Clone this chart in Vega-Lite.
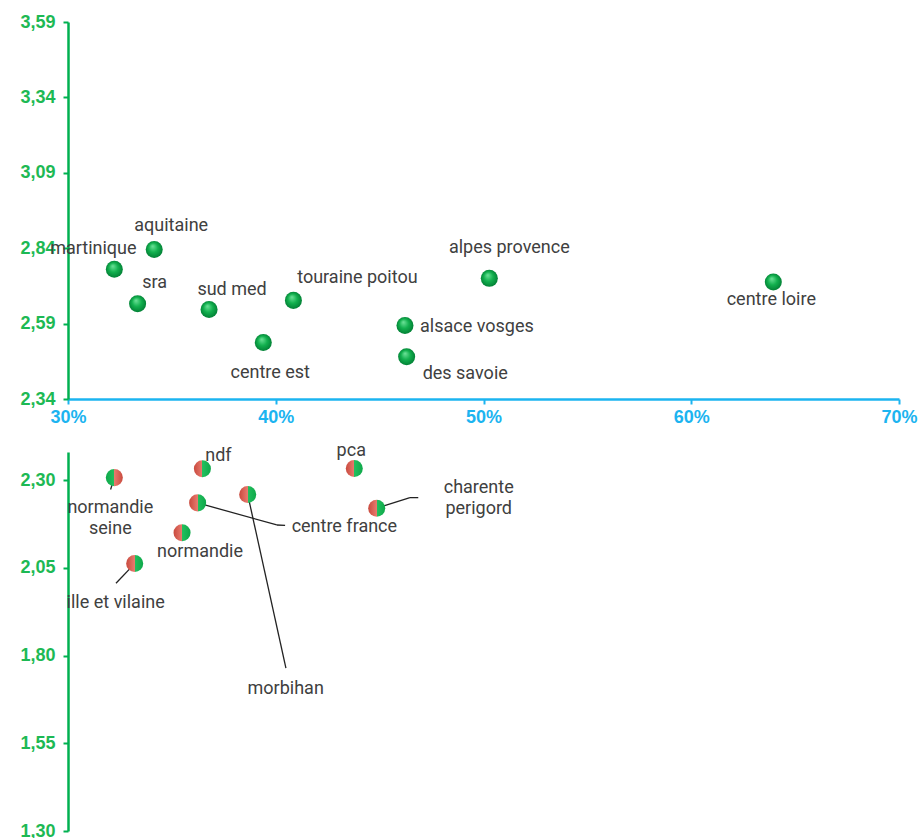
{
  "$schema": "https://vega.github.io/schema/vega-lite/v6.json",
  "padding": {"left": 19, "top": 13, "right": 5, "bottom": 5},
  "spacing": 53,
  "bounds": "flush",
  "config": {
    "view": {"stroke": null},
    "axis": {"labelFlush": false, "labelOverlap": false, "grid": false, "title": null, "labelFont": "Liberation Sans", "labelFontWeight": "bold", "labelFontSize": 18},
    "text": {"font": "Roboto", "fontSize": 18, "color": "#404040", "baseline": "middle", "align": "center", "lineHeight": 21, "lineBreak": "\n"}
  },
  "datasets": {
    "upper": [
      {"name": "martinique", "pct": 32.23, "val": 2.770},
      {"name": "aquitaine", "pct": 34.15, "val": 2.836},
      {"name": "sra", "pct": 33.35, "val": 2.656},
      {"name": "sud med", "pct": 36.79, "val": 2.637},
      {"name": "centre est", "pct": 39.40, "val": 2.527},
      {"name": "touraine poitou", "pct": 40.85, "val": 2.667},
      {"name": "alsace vosges", "pct": 46.22, "val": 2.584},
      {"name": "des savoie", "pct": 46.30, "val": 2.480},
      {"name": "alpes provence", "pct": 50.28, "val": 2.740},
      {"name": "centre loire", "pct": 63.95, "val": 2.728}
    ],
    "lower": [
      {"name": "normandie\nseine", "pct": 32.23, "val": 2.307},
      {"name": "ndf", "pct": 36.47, "val": 2.332},
      {"name": "centre france", "pct": 36.24, "val": 2.235},
      {"name": "morbihan", "pct": 38.65, "val": 2.259},
      {"name": "normandie", "pct": 35.49, "val": 2.150},
      {"name": "ille et vilaine", "pct": 33.21, "val": 2.062},
      {"name": "pca", "pct": 43.78, "val": 2.333},
      {"name": "charente\nperigord", "pct": 44.86, "val": 2.220}
    ],
    "leaders": [
      {"name": "normandie seine", "pct": 32.23, "val": 2.307, "pct2": 32.05, "val2": 2.273},
      {"name": "ille et vilaine", "pct": 33.21, "val": 2.062, "pct2": 32.31, "val2": 2.006},
      {"name": "centre france", "pct": 36.24, "val": 2.235, "pct2": 40.05, "val2": 2.172},
      {"name": "centre france", "pct": 40.05, "val": 2.172, "pct2": 40.45, "val2": 2.171},
      {"name": "morbihan", "pct": 38.65, "val": 2.259, "pct2": 40.49, "val2": 1.764},
      {"name": "charente perigord", "pct": 44.86, "val": 2.220, "pct2": 46.46, "val2": 2.250},
      {"name": "charente perigord", "pct": 46.46, "val": 2.250, "pct2": 46.86, "val2": 2.250}
    ]
  },
  "vconcat": [
    {
      "width": 831,
      "height": 377,
      "data": {"name": "upper"},
      "encoding": {
        "x": {"field": "pct", "type": "quantitative", "scale": {"domain": [30, 70], "nice": false, "zero": false},
          "axis": {"values": [30, 40, 50, 60, 70], "labelExpr": "datum.value + '%'", "domainColor": "#1CB4F0", "domainWidth": 2.5, "tickColor": "#1CB4F0", "tickWidth": 2, "tickSize": 5, "labelColor": "#1CB4F0", "labelPadding": 4}},
        "y": {"field": "val", "type": "quantitative", "scale": {"domain": [2.34, 3.59], "nice": false, "zero": false},
          "axis": {"values": [2.34, 2.59, 2.84, 3.09, 3.34, 3.59], "labelExpr": "replace(format(datum.value, '.2f'), '.', ',')", "domainColor": "#00B050", "domainWidth": 2.5, "tickColor": "#00B050", "tickWidth": 2, "tickSize": 5, "labelColor": "#1DB954", "labelPadding": 8}}
      },
      "layer": [
        {"mark": {"type": "point", "shape": "circle", "filled": true, "size": 290, "opacity": 1,
          "fill": {"gradient": "radial", "x1": 0.4, "y1": 0.3, "r1": 0, "x2": 0.5, "y2": 0.5, "r2": 0.55,
            "stops": [{"offset": 0, "color": "#6FE39A"}, {"offset": 0.5, "color": "#12B04E"}, {"offset": 1, "color": "#007A32"}]}}},
        {"transform": [{"filter": {"field": "name", "equal": "martinique"}}], "mark": {"type": "text", "dx": -21, "dy": -20}, "encoding": {"text": {"field": "name"}}},
        {"transform": [{"filter": {"field": "name", "equal": "aquitaine"}}], "mark": {"type": "text", "dx": 17, "dy": -23}, "encoding": {"text": {"field": "name"}}},
        {"transform": [{"filter": {"field": "name", "equal": "sra"}}], "mark": {"type": "text", "dx": 17, "dy": -21}, "encoding": {"text": {"field": "name"}}},
        {"transform": [{"filter": {"field": "name", "equal": "sud med"}}], "mark": {"type": "text", "dx": 23, "dy": -19}, "encoding": {"text": {"field": "name"}}},
        {"transform": [{"filter": {"field": "name", "equal": "touraine poitou"}}], "mark": {"type": "text", "dx": 64, "dy": -22}, "encoding": {"text": {"field": "name"}}},
        {"transform": [{"filter": {"field": "name", "equal": "centre est"}}], "mark": {"type": "text", "dx": 7, "dy": 30}, "encoding": {"text": {"field": "name"}}},
        {"transform": [{"filter": {"field": "name", "equal": "alsace vosges"}}], "mark": {"type": "text", "align": "left", "dx": 15, "dy": 2}, "encoding": {"text": {"field": "name"}}},
        {"transform": [{"filter": {"field": "name", "equal": "des savoie"}}], "mark": {"type": "text", "align": "left", "dx": 16, "dy": 17}, "encoding": {"text": {"field": "name"}}},
        {"transform": [{"filter": {"field": "name", "equal": "alpes provence"}}], "mark": {"type": "text", "dx": 20, "dy": -30}, "encoding": {"text": {"field": "name"}}},
        {"transform": [{"filter": {"field": "name", "equal": "centre loire"}}], "mark": {"type": "text", "dx": -2, "dy": 18}, "encoding": {"text": {"field": "name"}}}
      ]
    },
    {
      "width": 831,
      "height": 379,
      "layer": [
        {
          "data": {"name": "leaders"},
          "mark": {"type": "rule", "color": "#222222", "strokeWidth": 1.3},
          "encoding": {
            "x": {"field": "pct", "type": "quantitative", "scale": {"domain": [30, 70], "nice": false, "zero": false}, "axis": null},
            "y": {"field": "val", "type": "quantitative", "scale": {"domain": [1.30, 2.38], "nice": false, "zero": false}},
            "x2": {"field": "pct2"},
            "y2": {"field": "val2"}
          }
        },
        {
          "data": {"name": "lower"},
          "encoding": {
            "x": {"field": "pct", "type": "quantitative", "scale": {"domain": [30, 70], "nice": false, "zero": false}, "axis": null},
            "y": {"field": "val", "type": "quantitative", "scale": {"domain": [1.30, 2.38], "nice": false, "zero": false},
              "axis": {"values": [1.30, 1.55, 1.80, 2.05, 2.30], "labelExpr": "replace(format(datum.value, '.2f'), '.', ',')", "domainColor": "#00B050", "domainWidth": 2.5, "tickColor": "#00B050", "tickWidth": 2, "tickSize": 5, "labelColor": "#1DB954", "labelPadding": 8}}
          },
          "layer": [
            {"transform": [{"filter": {"field": "name", "equal": "normandie\nseine"}}],
              "mark": {"type": "point", "shape": "circle", "filled": true, "size": 290, "opacity": 1,
                "fill": {"gradient": "linear", "x1": 0, "y1": 0, "x2": 1, "y2": 0,
                  "stops": [{"offset": 0, "color": "#0FA84A"}, {"offset": 0.5, "color": "#22C05E"}, {"offset": 0.5, "color": "#E87A6E"}, {"offset": 1, "color": "#C94A3E"}]}}},
            {"transform": [{"filter": {"field": "name", "oneOf": ["ndf", "centre france", "morbihan", "normandie", "ille et vilaine", "pca", "charente\nperigord"]}}],
              "mark": {"type": "point", "shape": "circle", "filled": true, "size": 290, "opacity": 1,
                "fill": {"gradient": "linear", "x1": 0, "y1": 0, "x2": 1, "y2": 0,
                  "stops": [{"offset": 0, "color": "#C94A3E"}, {"offset": 0.5, "color": "#E87A6E"}, {"offset": 0.5, "color": "#22C05E"}, {"offset": 1, "color": "#0FA84A"}]}}},
            {"transform": [{"filter": {"field": "name", "equal": "normandie\nseine"}}], "mark": {"type": "text", "dx": -4, "dy": 30}, "encoding": {"text": {"field": "name"}}},
            {"transform": [{"filter": {"field": "name", "equal": "ndf"}}], "mark": {"type": "text", "dx": 16, "dy": -13}, "encoding": {"text": {"field": "name"}}},
            {"transform": [{"filter": {"field": "name", "equal": "pca"}}], "mark": {"type": "text", "dx": -3, "dy": -17}, "encoding": {"text": {"field": "name"}}},
            {"transform": [{"filter": {"field": "name", "equal": "normandie"}}], "mark": {"type": "text", "dx": 18, "dy": 19}, "encoding": {"text": {"field": "name"}}},
            {"transform": [{"filter": {"field": "name", "equal": "ille et vilaine"}}], "mark": {"type": "text", "dx": -19, "dy": 39}, "encoding": {"text": {"field": "name"}}},
            {"transform": [{"filter": {"field": "name", "equal": "centre france"}}], "mark": {"type": "text", "align": "left", "dx": 94, "dy": 24}, "encoding": {"text": {"field": "name"}}},
            {"transform": [{"filter": {"field": "name", "equal": "morbihan"}}], "mark": {"type": "text", "dx": 38, "dy": 195}, "encoding": {"text": {"field": "name"}}},
            {"transform": [{"filter": {"field": "name", "equal": "charente\nperigord"}}], "mark": {"type": "text", "dx": 102, "dy": -20}, "encoding": {"text": {"field": "name"}}}
          ]
        }
      ],
      "resolve": {"axis": {"y": "shared"}}
    }
  ]
}
